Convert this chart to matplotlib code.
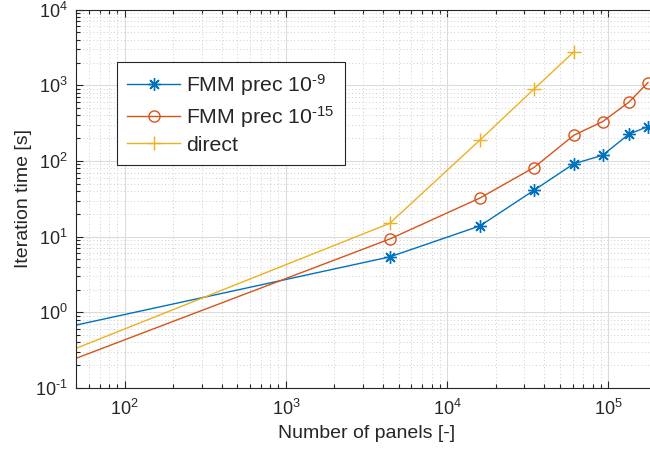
import numpy as np
import matplotlib
matplotlib.use("Agg")
import matplotlib.pyplot as plt
from matplotlib.ticker import LogLocator, NullFormatter, FuncFormatter

plt.rcParams['font.family'] = ['Liberation Sans', 'DejaVu Sans']
plt.rcParams['mathtext.fontset'] = 'custom'
plt.rcParams['mathtext.rm'] = 'Liberation Sans'
plt.rcParams['mathtext.it'] = 'Liberation Sans'
plt.rcParams['mathtext.default'] = 'regular'

# values (first point lies left of the visible range)
panels_fmm = [16, 4400, 16000, 34500, 61000, 92000, 134000, 176000]
time_fmm9 = [0.40, 5.4, 13.9, 41, 92, 119, 227, 285]
time_fmm15 = [0.098, 9.3, 32.5, 82, 219, 332, 600, 1090]
panels_direct = [16, 4400, 16000, 34500, 61000]
time_direct = [0.127, 15.0, 190, 891, 2770]

labels = ['FMM prec 10$^{\\text{-}9}$', 'FMM prec 10$^{\\text{-}15}$', 'direct']
colors = ['#0072BD', '#D95319', '#EDB120']
text_color = '#262626'


def pow_label(val, pos):
    # matlab style 10^n with a short hyphen for negative exponents
    e = int(round(np.log10(val)))
    if e < 0:
        return '$10^{\\text{-}%d}$' % (-e)
    return '$10^{%d}$' % e


fig = plt.figure(figsize=(6.5, 4.55), dpi=100)
# axes box runs a bit past the right border of the image, like the reference
ax = fig.add_axes([76 / 650, 67 / 455, 581 / 650, 378.3 / 455])

ax.plot(panels_fmm, time_fmm9, color=colors[0], linewidth=1, marker=(8, 2, 0),
        markersize=9, markeredgewidth=1, label=labels[0])
ax.plot(panels_fmm, time_fmm15, color=colors[1], linewidth=1, marker='o',
        markersize=8, markerfacecolor='none', markeredgewidth=1, label=labels[1])
ax.plot(panels_direct, time_direct, color=colors[2], linewidth=1, marker='+',
        markersize=10, markeredgewidth=1, label=labels[2])

ax.set_xscale('log')
ax.set_yscale('log')
ax.set_xlim(50, 2e5)
ax.set_ylim(0.1, 1e4)

ax.xaxis.set_major_locator(LogLocator(base=10, numticks=10))
ax.yaxis.set_major_locator(LogLocator(base=10, numticks=10))
ax.xaxis.set_minor_locator(LogLocator(base=10, subs=np.arange(2, 10), numticks=20))
ax.yaxis.set_minor_locator(LogLocator(base=10, subs=np.arange(2, 10), numticks=20))
ax.xaxis.set_major_formatter(FuncFormatter(pow_label))
ax.yaxis.set_major_formatter(FuncFormatter(pow_label))
ax.xaxis.set_minor_formatter(NullFormatter())
ax.yaxis.set_minor_formatter(NullFormatter())

ax.grid(True, which='major', color='#dcdcdc', linewidth=0.8, linestyle='-')
ax.grid(True, which='minor', color='#cfcfcf', linewidth=0.7, linestyle=(0, (1, 2.5)))
ax.set_axisbelow(True)

ax.tick_params(which='both', direction='in', top=True, right=True,
               colors=text_color, labelsize=13, width=0.8)
ax.tick_params(which='major', length=5)
ax.tick_params(which='minor', length=3)
ax.tick_params(axis='x', which='major', pad=8)
ax.tick_params(axis='y', which='major', pad=6)
for spine in ax.spines.values():
    spine.set_color(text_color)
    spine.set_linewidth(0.8)

ax.set_xlabel('Number of panels [-]', fontsize=14, color=text_color, labelpad=4)
ax.set_ylabel('Iteration time [s]', fontsize=14, color=text_color, labelpad=2)

leg = ax.legend(loc='upper left', bbox_to_anchor=(117 / 650, 1 - 62 / 455),
                bbox_transform=fig.transFigure, borderaxespad=0, fancybox=False,
                fontsize=15.3, handlelength=2.5, handletextpad=0.3,
                labelspacing=0.28, borderpad=0.47, framealpha=1)
leg.get_frame().set_edgecolor(text_color)
leg.get_frame().set_linewidth(0.8)
for t in leg.get_texts():
    t.set_color(text_color)

fig.savefig('out.png', dpi=100)
